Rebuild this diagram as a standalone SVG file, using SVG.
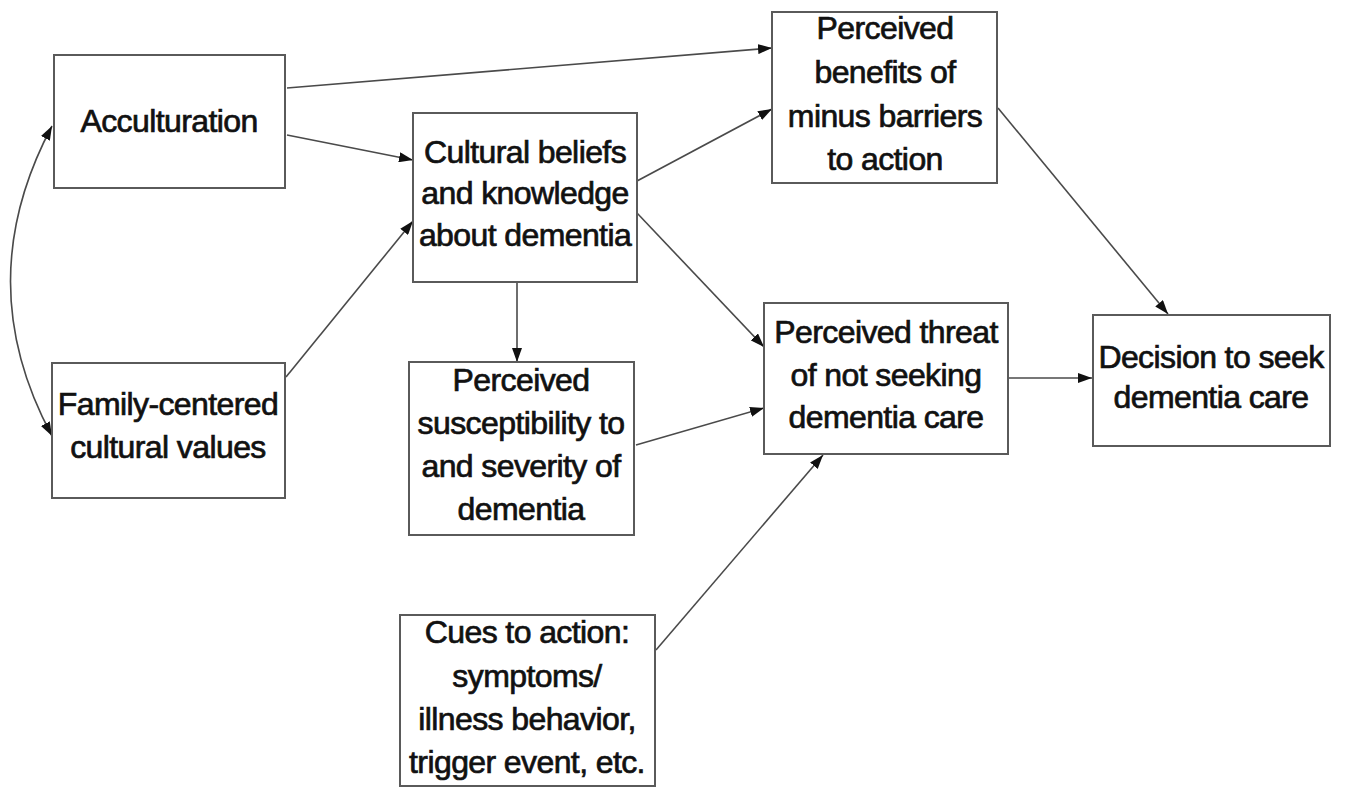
<svg xmlns="http://www.w3.org/2000/svg" width="1345" height="788" viewBox="0 0 1345 788">
<style>
.box{fill:#fff;stroke:#5a5a5a;stroke-width:2}
.lbl{font-family:"Liberation Sans",Arial,sans-serif;font-size:32px;fill:#111;stroke:#111;stroke-width:0.7;text-anchor:middle;letter-spacing:-0.6px}
.edge{fill:none;stroke:#4a4a4a;stroke-width:1.6}
</style>
<defs>
<marker id="ah" viewBox="0 0 14 10" refX="14" refY="5" markerWidth="14" markerHeight="10" markerUnits="userSpaceOnUse" orient="auto-start-reverse">
<path d="M0,0 L14,5 L0,10 Z" fill="#111"/>
</marker>
</defs>
<rect width="1345" height="788" fill="#fff"/>
<g id="connectors">
<path class="edge" d="M287,88 L772,48" marker-end="url(#ah)"/>
<path class="edge" d="M287,135 L413,160" marker-end="url(#ah)"/>
<path class="edge" d="M286,377 L413,221" marker-end="url(#ah)"/>
<path class="edge" d="M637,181 L772,109" marker-end="url(#ah)"/>
<path class="edge" d="M637,213 L764,347" marker-end="url(#ah)"/>
<path class="edge" d="M517,282 L517,362" marker-end="url(#ah)"/>
<path class="edge" d="M636,445 L764,408" marker-end="url(#ah)"/>
<path class="edge" d="M656,650 L823,455" marker-end="url(#ah)"/>
<path class="edge" d="M998,108 L1168,314" marker-end="url(#ah)"/>
<path class="edge" d="M1008,378 L1092,378" marker-end="url(#ah)"/>
<path class="edge" d="M52,126 Q-31,282 52,436" marker-start="url(#ah)" marker-end="url(#ah)"/>
</g>
<g id="acculturation">
<rect class="box" x="54" y="55" width="231" height="133"/>
<text class="lbl" x="169" y="132">Acculturation</text>
</g>
<g id="family">
<rect class="box" x="52" y="363" width="233" height="135"/>
<text class="lbl" x="168" y="415">Family-centered</text>
<text class="lbl" x="168" y="458">cultural values</text>
</g>
<g id="cultural">
<rect class="box" x="413" y="113" width="224" height="169"/>
<text class="lbl" x="525" y="163">Cultural beliefs</text>
<text class="lbl" x="525" y="204">and knowledge</text>
<text class="lbl" x="525" y="246">about dementia</text>
</g>
<g id="benefits">
<rect class="box" x="772" y="12" width="225" height="171"/>
<text class="lbl" x="885" y="39">Perceived</text>
<text class="lbl" x="885" y="83">benefits of</text>
<text class="lbl" x="885" y="127">minus barriers</text>
<text class="lbl" x="885" y="170">to action</text>
</g>
<g id="susceptibility">
<rect class="box" x="409" y="362" width="225" height="173"/>
<text class="lbl" x="521" y="391">Perceived</text>
<text class="lbl" x="521" y="434">susceptibility to</text>
<text class="lbl" x="521" y="477">and severity of</text>
<text class="lbl" x="521" y="520">dementia</text>
</g>
<g id="threat">
<rect class="box" x="764" y="303" width="244" height="151"/>
<text class="lbl" x="886" y="343">Perceived threat</text>
<text class="lbl" x="886" y="386">of not seeking</text>
<text class="lbl" x="886" y="428">dementia care</text>
</g>
<g id="decision">
<rect class="box" x="1093" y="315" width="237" height="131"/>
<text class="lbl" x="1211" y="368">Decision to seek</text>
<text class="lbl" x="1211" y="408">dementia care</text>
</g>
<g id="cues">
<rect class="box" x="400" y="615" width="255" height="171"/>
<text class="lbl" x="527" y="643">Cues to action:</text>
<text class="lbl" x="527" y="687">symptoms/</text>
<text class="lbl" x="527" y="730">illness behavior,</text>
<text class="lbl" x="527" y="773">trigger event, etc.</text>
</g>
</svg>
